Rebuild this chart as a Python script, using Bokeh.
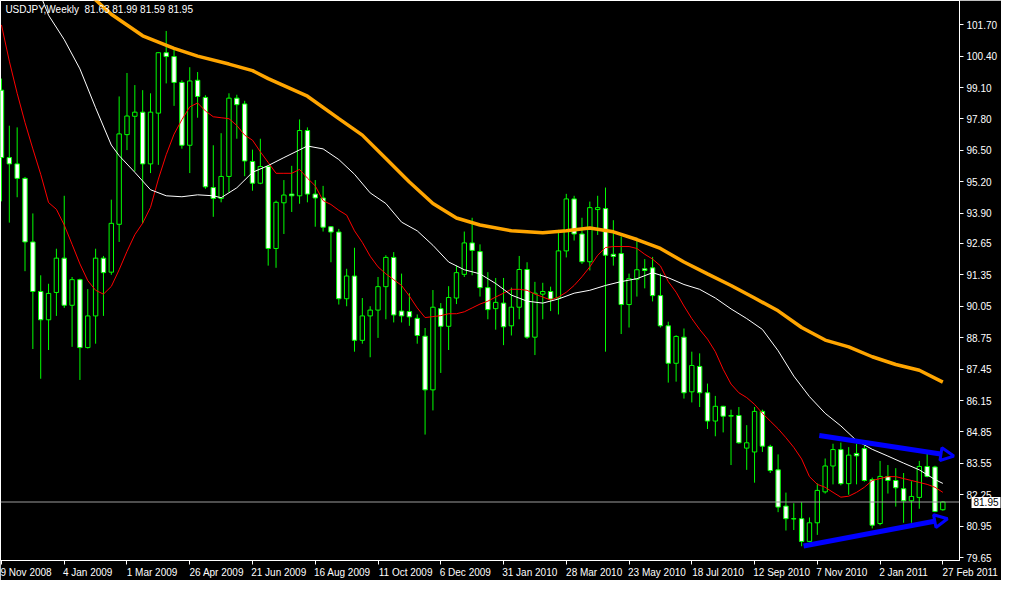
from bokeh.plotting import figure
from bokeh.models import (FixedTicker, PrintfTickFormatter, Span, Label, Arrow,
                          NormalHead, ColumnDataSource, Range1d, LinearAxis)
from bokeh.embed import file_html
from bokeh.resources import INLINE

# ---------------- data ----------------
chart_title = "USDJPY,Weekly\u00a0\u00a081.63 81.99 81.59 81.95"
last_price = 81.95

opens = [98.99, 96.20, 95.94, 95.34, 92.71, 90.66, 89.49, 90.62, 92.04, 90.09,
         91.15, 88.34, 89.65, 92.04, 91.46, 93.44, 97.15, 97.91, 98.08, 95.94,
         98.04, 100.54, 100.38, 99.31, 96.71, 99.40, 98.69, 94.96, 94.51, 95.42,
         98.66, 98.42, 96.04, 95.14, 95.83, 92.44, 94.33, 94.69, 94.62, 97.32,
         94.69, 94.53, 93.34, 93.12, 90.36, 91.30, 88.64, 89.65, 89.89, 90.86,
         92.07, 89.85, 89.83, 89.55, 88.81, 86.59, 89.95, 89.22, 90.39, 91.37,
         92.67, 92.31, 90.82, 89.95, 90.18, 89.24, 90.01, 91.57, 88.77, 90.55,
         90.66, 90.39, 92.34, 94.49, 93.04, 91.89, 94.05, 94.09, 92.20, 92.23,
         90.12, 91.17, 91.60, 91.64, 90.49, 89.24, 87.69, 88.77, 86.51, 87.56,
         86.47, 85.30, 85.91, 85.50, 85.53, 84.18, 84.02, 85.70, 84.25, 83.28,
         81.78, 81.26, 81.26, 80.32, 81.09, 82.37, 83.44, 84.12, 82.71, 83.96,
         84.16, 82.88, 81.06, 83.00, 82.84, 82.50, 82.00, 82.14, 83.42, 83.40, 81.63]

highs = [99.47, 97.52, 97.45, 95.40, 93.89, 91.33, 90.98, 92.43, 94.62, 91.26,
         91.19, 90.76, 92.43, 92.13, 94.46, 98.73, 99.70, 99.20, 98.99, 98.86,
         100.56, 101.44, 100.75, 99.40, 99.94, 99.74, 98.78, 96.71, 97.21, 98.86,
         98.80, 98.55, 96.53, 96.98, 95.88, 94.42, 95.27, 95.86, 97.78, 97.45,
         95.27, 95.03, 93.37, 93.25, 91.60, 92.47, 90.39, 90.05, 91.26, 92.16,
         92.29, 91.40, 90.59, 89.71, 89.15, 90.72, 90.18, 90.88, 91.73, 93.14,
         93.71, 92.61, 91.46, 91.22, 91.22, 90.82, 92.13, 91.87, 91.06, 91.02,
         90.86, 93.21, 94.70, 94.62, 93.71, 94.38, 94.62, 94.96, 93.61, 92.94,
         91.40, 92.88, 92.00, 92.09, 91.40, 89.41, 88.85, 89.13, 88.17, 88.10,
         86.85, 86.34, 85.93, 85.77, 85.88, 85.13, 85.88, 85.77, 84.32, 83.92,
         82.34, 81.90, 81.94, 81.31, 82.72, 83.75, 84.36, 84.41, 84.22, 84.36,
         84.33, 82.96, 83.65, 83.48, 83.35, 83.15, 82.81, 83.65, 83.96, 83.45, 81.99]

lows = [94.39, 93.51, 94.56, 91.50, 88.28, 87.05, 88.24, 89.65, 89.98, 88.37,
        87.00, 88.30, 88.50, 89.65, 91.35, 92.71, 96.51, 95.63, 93.48, 95.56,
        95.90, 99.27, 98.34, 96.57, 95.56, 97.85, 94.91, 93.75, 94.35, 94.76,
        96.98, 95.43, 94.83, 95.10, 91.73, 91.64, 93.04, 93.95, 94.29, 94.35,
        93.34, 93.14, 91.87, 90.12, 90.05, 88.17, 88.50, 87.94, 88.74, 89.51,
        89.38, 89.38, 89.24, 88.50, 84.74, 85.74, 87.29, 88.24, 90.14, 91.26,
        91.33, 90.45, 89.51, 89.08, 88.44, 88.84, 89.51, 88.70, 88.03, 89.51,
        89.85, 89.71, 92.07, 92.77, 91.80, 91.53, 93.00, 88.17, 91.73, 88.90,
        89.17, 90.45, 90.79, 90.25, 89.17, 86.89, 86.93, 86.23, 86.07, 85.88,
        84.97, 84.67, 84.83, 83.48, 84.36, 83.28, 82.75, 84.02, 83.15, 81.53,
        80.77, 80.79, 80.12, 80.28, 80.59, 82.30, 82.68, 82.64, 82.25, 82.68,
        82.79, 80.86, 80.99, 82.30, 81.76, 81.09, 81.09, 81.67, 82.97, 81.53, 81.59]

closes = [96.20, 95.94, 95.34, 92.71, 90.66, 89.49, 90.58, 92.04, 90.09, 91.15,
          88.34, 89.65, 92.04, 91.44, 93.48, 97.18, 97.92, 98.08, 95.94, 98.08,
          100.54, 100.38, 99.31, 96.71, 99.37, 98.73, 94.99, 94.51, 95.42, 98.66,
          98.39, 96.06, 95.14, 95.83, 92.44, 94.35, 94.65, 94.62, 97.32, 94.69,
          94.53, 93.32, 93.12, 90.36, 91.30, 88.64, 89.65, 89.89, 90.86, 92.07,
          89.69, 89.65, 89.61, 88.84, 86.59, 90.01, 89.22, 90.41, 91.44, 92.67,
          92.36, 90.82, 89.91, 90.21, 89.20, 90.01, 91.57, 88.77, 90.59, 90.66,
          90.35, 92.34, 94.49, 93.04, 91.89, 94.13, 94.13, 92.16, 92.11, 90.12,
          91.19, 91.56, 91.53, 90.49, 89.24, 87.69, 88.80, 86.47, 87.60, 86.47,
          85.30, 85.91, 85.50, 85.53, 84.40, 84.40, 85.70, 84.26, 83.25, 81.74,
          81.26, 81.25, 80.32, 81.09, 82.43, 83.44, 84.12, 82.71, 83.89, 83.86,
          82.84, 80.99, 83.01, 82.84, 82.54, 82.00, 82.18, 83.42, 83.01, 81.56, 81.95]

# fast moving average (red), one value per bar
ma_red = [101.69, 100.19, 98.86, 97.65, 96.56, 95.51, 94.34, 94.06, 93.41, 92.61,
          91.80, 91.11, 90.71, 90.55, 90.87, 91.56, 92.32, 93.01, 93.49, 94.14,
          95.31, 96.32, 97.17, 97.77, 98.30, 98.46, 98.13, 97.89, 97.85, 97.81,
          97.53, 97.13, 96.92, 96.44, 96.00, 95.55, 95.55, 95.55, 95.71, 95.35,
          95.03, 94.42, 94.26, 94.02, 93.82, 93.17, 92.69, 92.12, 91.68, 91.39,
          91.15, 90.91, 90.47, 89.98, 89.58, 89.62, 89.66, 89.74, 89.74, 89.82,
          89.98, 90.14, 90.26, 90.43, 90.59, 90.75, 90.75, 90.71, 90.55, 90.43,
          90.31, 90.43, 90.63, 90.91, 91.27, 91.68, 92.16, 92.48, 92.52, 92.52,
          92.52, 92.44, 92.20, 92.00, 91.72, 91.07, 90.63, 90.06, 89.54, 89.09,
          88.69, 88.17, 87.44, 86.83, 86.47, 86.27, 85.99, 85.62, 85.30, 84.98,
          84.61, 84.21, 83.73, 83.00, 82.68, 82.56, 82.35, 82.15, 82.19, 82.35,
          82.56, 82.84, 82.92, 83.00, 83.00, 82.92, 82.84, 82.76, 82.68, 82.56, 82.35]

# medium moving average (white), read at these bars
ma_white_bar = [5, 6, 8, 10, 12, 14, 15, 17, 19, 21, 23, 25, 27, 28, 30, 32, 34, 36,
                38, 39, 41, 43, 45, 47, 49, 51, 53, 55, 57, 59, 61, 63, 65, 67, 69,
                71, 73, 75, 77, 79, 81, 83, 85, 87, 89, 91, 93, 95, 97, 99, 101, 103,
                105, 107, 109, 111, 113, 115, 117, 119, 120]
ma_white = [102.90, 102.09, 101.08, 99.87, 98.26, 96.72, 96.28, 95.59, 94.87, 94.62,
            94.58, 94.66, 94.62, 94.54, 94.95, 95.59, 95.87, 96.20, 96.52, 96.68,
            96.56, 96.12, 95.51, 94.74, 94.30, 93.53, 93.17, 92.57, 91.88, 91.56,
            91.39, 90.99, 90.51, 90.26, 90.18, 90.35, 90.59, 90.71, 90.91, 91.07,
            91.19, 91.44, 91.23, 90.95, 90.75, 90.39, 89.94, 89.54, 89.09, 88.21,
            87.16, 86.31, 85.62, 85.10, 84.49, 84.13, 83.85, 83.56, 83.28, 82.88, 82.72]

# slow moving average (orange), read at these bars
ma_orange_bar = [11, 14, 18, 22, 25, 29, 32, 34, 39, 43, 46, 49, 52, 55, 58, 61, 65,
                 69, 72, 75, 78, 81, 84, 87, 90, 93, 96, 99, 102, 105, 108, 111, 114,
                 117, 120]
ma_orange = [103.02, 102.13, 101.24, 100.72, 100.40, 100.07, 99.80, 99.47, 98.74,
             97.81, 97.13, 96.16, 95.19, 94.30, 93.70, 93.41, 93.17, 93.09, 93.17,
             93.29, 93.13, 92.81, 92.44, 91.88, 91.39, 90.91, 90.39, 89.86, 89.17,
             88.65, 88.37, 87.96, 87.64, 87.40, 86.91]

# time axis: one label every 8 weekly bars
date_labels = ["9 Nov 2008", "4 Jan 2009", "1 Mar 2009", "26 Apr 2009", "21 Jun 2009",
               "16 Aug 2009", "11 Oct 2009", "6 Dec 2009", "31 Jan 2010", "28 Mar 2010",
               "23 May 2010", "18 Jul 2010", "12 Sep 2010", "7 Nov 2010", "2 Jan 2011",
               "27 Feb 2011"]
bars_per_label = 8

price_ticks = [79.65, 80.95, 82.25, 83.55, 84.85, 86.15, 87.45, 88.75, 90.05, 91.35,
               92.65, 93.90, 95.20, 96.50, 97.80, 99.10, 100.40, 101.70]

# trend-line arrows drawn on the chart (bar index, price)
upper_arrow = (104.25, 84.70, 121.4, 83.85)
lower_arrow = (102.25, 80.13, 120.6, 81.26)

# ---------------- build the chart ----------------
W, H = 1001, 580
RIGHT, BOTTOM = 40, 20
X0, X1 = -0.125, 122.125
FONT = "Liberation Sans"
FSIZE = 10
NBSP = "\u00a0"

n = len(opens)
bars = list(range(n))
body_top = [max(o, c) for o, c in zip(opens, closes)]
body_bot = [min(o, c) for o, c in zip(opens, closes)]
body_fill = ["black" if c > o else "white" for o, c in zip(opens, closes)]

src = ColumnDataSource(dict(x=bars, high=highs, low=lows, top=body_top,
                            bottom=body_bot, fill=body_fill))

p = figure(width=W, height=H,
           x_range=Range1d(X0, X1), y_range=Range1d(79.53, 102.70),
           y_axis_location="right", output_backend="svg", toolbar_location=None,
           min_border_left=0, min_border_top=0, min_border_right=RIGHT,
           min_border_bottom=BOTTOM)
p.background_fill_color = "black"
p.border_fill_color = "black"
p.outline_line_color = "white"
p.outline_line_width = 1
p.xgrid.visible = False
p.ygrid.visible = False

# candles
p.segment(x0="x", y0="low", x1="x", y1="high", source=src,
          line_color="#00ff00", line_width=1)
p.vbar(x="x", top="top", bottom="bottom", width=0.56, source=src,
       fill_color="fill", line_color="#00ff00", line_width=1)

# moving averages
p.line(bars, ma_red, line_color="red", line_width=1)
p.line(ma_white_bar, ma_white, line_color="white", line_width=1)
p.line(ma_orange_bar, ma_orange, line_color="#ffa500", line_width=3.5)

# current price line
p.add_layout(Span(location=last_price, dimension="width",
                  line_color="#9c9c9c", line_width=1))

# arrows
for (xs, ys, xe, ye) in (upper_arrow, lower_arrow):
    p.add_layout(Arrow(end=NormalHead(size=13, line_color="#0000ff", line_width=3,
                                      fill_color="black"),
                       x_start=xs, y_start=ys, x_end=xe, y_end=ye,
                       line_color="#0000ff", line_width=5))

# ---- axes ----
def style_axis(ax):
    ax.axis_line_color = "white"
    ax.major_tick_line_color = "white"
    ax.minor_tick_line_color = None
    ax.major_tick_in = 0
    ax.major_tick_out = 4
    ax.major_label_text_color = "white"
    ax.major_label_text_font = FONT
    ax.major_label_text_font_size = f"{FSIZE}px"
    ax.major_label_standoff = 3

style_axis(p.yaxis[0])
p.yaxis.ticker = FixedTicker(ticks=price_ticks)
p.yaxis.formatter = PrintfTickFormatter(format="%.2f")

# x axis: tick marks at the bars (minor ticks), labels written to the right of
# each tick (label centres are placed half a label width right of the tick)
char_w = {" ": 0.278, "1": 0.556, "2": 0.556, "3": 0.556, "4": 0.556, "5": 0.556,
          "6": 0.556, "7": 0.556, "8": 0.556, "9": 0.556, "0": 0.556,
          "N": 0.722, "J": 0.5, "M": 0.833, "A": 0.667, "O": 0.778, "D": 0.722,
          "S": 0.667, "F": 0.611}
px_per_bar = (W - RIGHT) / (X1 - X0)
tick_bars = [i * bars_per_label for i in range(len(date_labels))]
label_ticks, label_text = [], []
for b, lab in zip(tick_bars, date_labels):
    w = sum(char_w.get(ch, 0.53) for ch in lab) * FSIZE
    centre = b + (w / 2 - 1) / px_per_bar
    if centre < X1 - 0.05:
        label_ticks.append(centre)
        label_text.append(lab)
    else:
        # centre would fall past the plot edge: keep the tick just inside and pad
        # the text on the left so that it still starts at its bar
        start_px = (b - (X1 - 0.05)) * px_per_bar - 1
        pad = max(0, round((w + 2 * start_px) / (0.278 * FSIZE)))
        label_ticks.append(X1 - 0.05)
        label_text.append(NBSP * pad + lab)

xa = p.xaxis[0]
style_axis(xa)
xa.ticker = FixedTicker(ticks=label_ticks, minor_ticks=tick_bars)
xa.major_label_overrides = {q: lab for q, lab in zip(label_ticks, label_text)}
xa.major_tick_line_color = None
xa.minor_tick_line_color = "white"
xa.minor_tick_in = 0
xa.minor_tick_out = 4
xa.major_label_standoff = 2

# price marker on the right scale: white box (thick tick) with the last price
price_axis = LinearAxis(ticker=FixedTicker(ticks=[last_price]),
                        formatter=PrintfTickFormatter(format="%.2f"))
price_axis.axis_line_color = None
price_axis.minor_tick_line_color = None
price_axis.major_tick_line_color = "white"
price_axis.major_tick_line_width = 11
price_axis.major_tick_line_cap = "butt"
price_axis.major_tick_in = 29
price_axis.major_tick_out = 0
price_axis.major_label_text_color = "black"
price_axis.major_label_text_font = FONT
price_axis.major_label_text_font_size = f"{FSIZE}px"
price_axis.major_label_standoff = -27
p.add_layout(price_axis, "right")

# header text
p.add_layout(Label(x=0.5, y=102.33, text=chart_title, text_color="white",
                   text_font=FONT, text_font_size=f"{FSIZE}px", text_baseline="middle"))

open("out.html", "w").write(file_html(p, INLINE))
